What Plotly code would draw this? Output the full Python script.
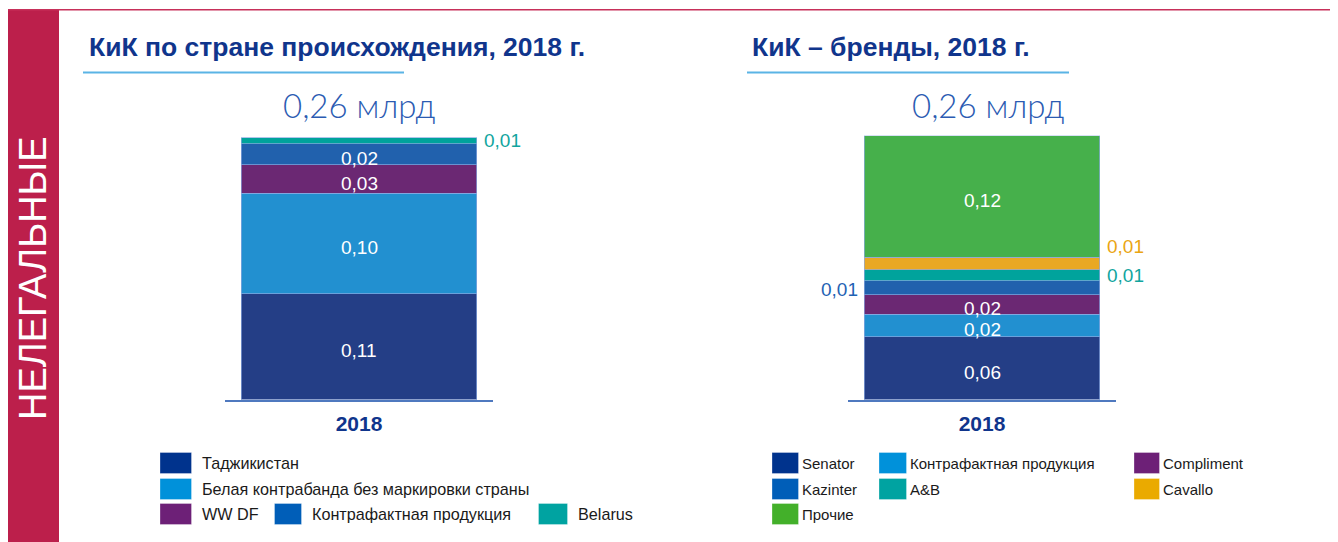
import plotly.graph_objects as go

# page body has an 8px margin: build the figure in page pixels and shift
OFF = 8
W, H = 1338 - OFF, 542 - OFF

# ---------------- data ----------------
categories = ["2018"]

left_title = "КиК по стране происхождения, 2018 г."
left_total = "0,26 млрд"
left_names = ["Таджикистан", "Белая контрабанда без маркировки страны", "WW DF",
              "Контрафактная продукция", "Belarus"]
left_values = [0.104, 0.099, 0.028, 0.021, 0.006]
left_labels = ["0,11", "0,10", "0,03", "0,02", "0,01"]

right_title = "КиК – бренды, 2018 г."
right_total = "0,26 млрд"
right_names = ["Senator", "Контрафактная продукция", "Compliment", "Kazinter",
               "A&B", "Cavallo", "Прочие"]
right_values = [0.062, 0.022, 0.019, 0.014, 0.011, 0.012, 0.120]
right_labels = ["0,06", "0,02", "0,02", "0,01", "0,01", "0,01", "0,12"]

side_label = "НЕЛЕГАЛЬНЫЕ"

# ---------------- styles ----------------
FONT = "Liberation Sans, Arial, sans-serif"
NAVY_T = "#10358c"
bar_col = {"navy": "#243e86", "lblue": "#2290d0", "purple": "#6b2873", "blue": "#2161ad",
           "teal": "#00a39c", "orange": "#e9a823", "green": "#46b04b"}
leg_col = {"navy": "#00338d", "lblue": "#0091da", "purple": "#6d2077", "blue": "#005eb8",
           "teal": "#00a3a1", "orange": "#eaaa00", "green": "#43b02a"}
left_keys = ["navy", "lblue", "purple", "blue", "teal"]
right_keys = ["navy", "lblue", "purple", "blue", "teal", "orange", "green"]
left_place = ["in", "in", "in", "in", "right"]
right_place = ["in", "in", "in", "left", "right", "right", "in"]
right_lshift = [0, 0, 0, 0, 0, 17, 0]
out_col = {"teal": "#11a59e", "orange": "#eaa512", "blue": "#1f63b4"}


def px(x):
    return max(0.0, (x - OFF) / W)


def py(y):
    return min(1.0, 1 - (y - OFF) / H)


BAR_W = 0.88
fig = go.Figure()
for vals, names, keys, xa, ya in [
    (left_values, left_names, left_keys, "x", "y"),
    (right_values, right_names, right_keys, "x2", "y2"),
]:
    for v, n, k in zip(vals, names, keys):
        fig.add_trace(go.Bar(
            x=categories, y=[v], name=n, xaxis=xa, yaxis=ya, width=BAR_W,
            marker=dict(color=bar_col[k], line=dict(color="rgba(140,170,225,0.85)", width=0.8)),
            showlegend=False, hoverinfo="name+y",
        ))

ann = []
shapes = []


def seg_labels(vals, labels, keys, places, shifts, xr, yr):
    cum = 0
    for v, lab, k, pl, sh in zip(vals, labels, keys, places, shifts):
        mid = cum + v / 2
        cum += v
        if pl == "in":
            ann.append(dict(x=0, y=mid, xref=xr, yref=yr, text=lab, showarrow=False,
                            xanchor="center", yanchor="middle", yshift=-4,
                            font=dict(family=FONT, size=19, color="white")))
        elif pl == "right":
            ann.append(dict(x=BAR_W / 2, y=mid, xref=xr, yref=yr, text=lab, showarrow=False,
                            xanchor="left", yanchor="middle", xshift=5, yshift=sh,
                            font=dict(family=FONT, size=19, color=out_col[k])))
        else:
            ann.append(dict(x=-BAR_W / 2, y=mid, xref=xr, yref=yr, text=lab, showarrow=False,
                            xanchor="right", yanchor="middle", xshift=-4, yshift=-2,
                            font=dict(family=FONT, size=19, color=out_col[k])))


seg_labels(left_values, left_labels, left_keys, left_place, [0] * 5, "x", "y")
seg_labels(right_values, right_labels, right_keys, right_place, right_lshift, "x2", "y2")

# titles, underlines, totals
for title, tx, ux0, ux1, total, cx in [
    (left_title, 87, 83, 404, left_total, 360),
    (right_title, 750, 747, 1069, right_total, 988),
]:
    ann.append(dict(x=px(tx), y=py(47), xref="paper", yref="paper", text="<b>" + title + "</b>",
                    showarrow=False, xanchor="left", yanchor="middle",
                    font=dict(family=FONT, size=26.5, color=NAVY_T)))
    shapes.append(dict(type="line", xref="paper", yref="paper", x0=px(ux0), x1=px(ux1),
                       y0=py(72.5), y1=py(72.5), line=dict(color="#5ab4e5", width=2)))
    ann.append(dict(x=px(cx), y=py(105), xref="paper", yref="paper", text=total,
                    showarrow=False, xanchor="center", yanchor="middle",
                    font=dict(family="Lato, Liberation Sans, sans-serif",
                              size=33, color="#2b5bb2", weight=300)))

# side band
shapes.append(dict(type="rect", xref="paper", yref="paper", x0=px(6), x1=px(59),
                   y0=0, y1=py(9.5), fillcolor="#bc1f4b", line=dict(width=0), layer="below"))
shapes.append(dict(type="line", xref="paper", yref="paper", x0=px(6), x1=px(1336),
                   y0=py(9.8), y1=py(9.8), line=dict(color="#c7305a", width=1.5)))
shapes.append(dict(type="line", xref="paper", yref="paper", x0=px(1335.6), x1=px(1335.6),
                   y0=py(9.8), y1=0, line=dict(color="#c7305a", width=1.5)))
ann.append(dict(x=px(33), y=py(278), xref="paper", yref="paper", text=side_label,
                showarrow=False, textangle=-90, xanchor="center", yanchor="middle",
                font=dict(family=FONT, size=38, color="white")))

# legends (manual swatches)
rows = [452.5, 478.5, 503.5]
SW_H = 21


def legend_item(x0, x1, row, color, text, tx, fs):
    y0 = rows[row]
    shapes.append(dict(type="rect", xref="paper", yref="paper", x0=px(x0), x1=px(x1),
                       y0=py(y0 + SW_H), y1=py(y0), fillcolor=color,
                       line=dict(color="rgba(255,255,255,0.6)", width=0.5)))
    ann.append(dict(x=px(tx), y=py(y0 + SW_H / 2), xref="paper", yref="paper", text=text,
                    showarrow=False, xanchor="left", yanchor="middle",
                    font=dict(family=FONT, size=fs, color="#1a1a1a")))


left_leg_pos = [(160, 191.5, 0, 200), (160, 191.5, 1, 200), (160, 191.5, 2, 200),
                (274.5, 301.5, 2, 310), (538.5, 567.5, 2, 576)]
for (x0, x1, r, tx), n, k in zip(left_leg_pos, left_names, left_keys):
    legend_item(x0, x1, r, leg_col[k], n, tx, 16.2)

right_leg_pos = [(772, 798.5, 0, 800), (879, 906.5, 0, 908), (1134, 1159.5, 0, 1161),
                 (772, 798.5, 1, 800), (879, 906.5, 1, 908), (1134, 1159.5, 1, 1161),
                 (772, 798.5, 2, 800)]
for (x0, x1, r, tx), n, k in zip(right_leg_pos, right_names, right_keys):
    legend_item(x0, x1, r, leg_col[k], n, tx, 15)

xaxis_style = dict(type="category", range=[-0.5, 0.5], showline=True, linecolor="#4f79bf",
                   linewidth=2, showgrid=False, zeroline=False, ticks="outside", ticklen=4,
                   tickcolor="rgba(0,0,0,0)", tickvals=categories,
                   ticktext=["<b>" + c + "</b>" for c in categories],
                   tickfont=dict(family=FONT, size=21, color=NAVY_T), fixedrange=True)
yaxis_style = dict(range=[0, 0.26], visible=False, showgrid=False, zeroline=False,
                   domain=[py(399.5), py(135.5)], fixedrange=True)

fig.update_layout(
    width=W, height=H, margin=dict(l=0, r=0, t=0, b=0),
    paper_bgcolor="white", plot_bgcolor="white", barmode="stack", showlegend=False,
    xaxis=dict(domain=[px(225), px(493)], anchor="y", **xaxis_style),
    xaxis2=dict(domain=[px(848), px(1116)], anchor="y2", **xaxis_style),
    yaxis=dict(anchor="x", **yaxis_style),
    yaxis2=dict(anchor="x2", **yaxis_style),
    annotations=ann, shapes=shapes,
)

fig.write_html("out.html")
